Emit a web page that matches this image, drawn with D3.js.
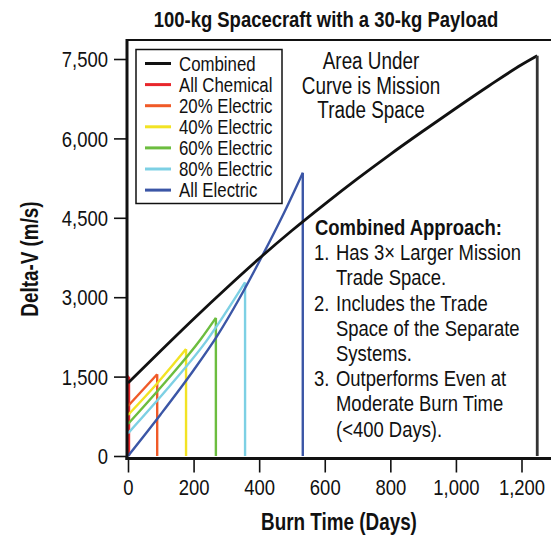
<!DOCTYPE html>
<html>
<head>
<meta charset="utf-8">
<script src="https://cdn.jsdelivr.net/npm/d3@7"></script>
<style>
  html, body { margin: 0; padding: 0; background: #fff; }
  svg { display: block; }
</style>
</head>
<body>
<svg id="chart" width="551" height="540"></svg>
<script>
// Burn time (days) and delta-V (m/s) for each propulsion option.
// Each separate system rises until its propellant is spent, then drops to zero.
const combinedDays = [0, 100, 200, 300, 400, 500, 600, 700, 800, 900, 1000, 1100, 1200, 1248];
const combinedDV   = [1380, 1990, 2590, 3170, 3730, 4260, 4760, 5240, 5700, 6140, 6570, 6990, 7390, 7560];

const chemDays = [0, 3];
const chemDV   = [1500, 1500];
const e20Days  = [0, 89];
const e20DV    = [945, 1545];
const e40Days  = [0, 90, 177];
const e40DV    = [775, 1380, 2020];
const e60Days  = [0, 110, 220, 268];
const e60DV    = [605, 1370, 2191, 2610];
const e80Days  = [0, 120, 240, 357];
const e80DV    = [428, 1270, 2180, 3280];
const elecDays = [0, 100, 200, 270, 340, 408, 470, 533];
const elecDV   = [0, 790, 1620, 2250, 2980, 3765, 4520, 5350];

const seriesNames  = ["Combined", "All Chemical", "20% Electric", "40% Electric", "60% Electric", "80% Electric", "All Electric"];
const seriesColors = ["#111111", "#e8262b", "#f05a28", "#f2e324", "#6cbd3f", "#7dd0e4", "#3b56a6"];

const xTicks = [0, 200, 400, 600, 800, 1000, 1200];
const yTicks = [0, 1500, 3000, 4500, 6000, 7500];

const titleText = "100-kg Spacecraft with a 30-kg Payload";
const xLabel = "Burn Time (Days)";
const yLabel = "Delta-V (m/s)";
const areaNote = ["Area Under", "Curve is Mission", "Trade Space"];
const approachHead = "Combined Approach:";
const approachItems = [
  ["1.", "Has 3\u00d7 Larger Mission", "Trade Space."],
  ["2.", "Includes the Trade", "Space of the Separate", "Systems."],
  ["3.", "Outperforms Even at", "Moderate Burn Time", "(<400 Days)."]
];

// Use a condensed face when present, otherwise squeeze the regular face
function fontPresent(name) {
  const ctx = document.createElement("canvas").getContext("2d");
  const probe = "Combined Approach 1,200";
  ctx.font = "40px monospace";
  const a = ctx.measureText(probe).width;
  ctx.font = `40px "${name}", monospace`;
  const b = ctx.measureText(probe).width;
  return Math.abs(a - b) > 0.5;
}
const narrow = fontPresent("Liberation Sans Narrow");
const FONT = narrow ? '"Liberation Sans Narrow", "Arial Narrow", sans-serif' : '"Liberation Sans", Arial, sans-serif';
const SQUEEZE = narrow ? 1 : 0.82;
function squeeze(sel) {
  if (SQUEEZE === 1) return;
  sel.each(function () {
    const w = this.getComputedTextLength();
    this.setAttribute("textLength", (w * SQUEEZE).toFixed(2));
    this.setAttribute("lengthAdjust", "spacingAndGlyphs");
  });
}

const svg = d3.select("#chart").style("font-family", FONT);

const x = d3.scaleLinear().domain([0, 1200]).range([128, 521.5]);
const y = d3.scaleLinear().domain([0, 7500]).range([456, 59]);

// Plot frame: top rule runs off the right edge
svg.append("line").attr("x1", 126).attr("x2", 551).attr("y1", 40).attr("y2", 40)
  .attr("stroke", "#111").attr("stroke-width", 2);

const lineGen = d3.line().x(d => x(d[0])).y(d => y(d[1]));
const curveGen = d3.line().x(d => x(d[0])).y(d => y(d[1])).curve(d3.curveMonotoneX);

function drawSeries(days, dv, color, width, dropColor) {
  const pts = days.map((d, i) => [d, dv[i]]);
  const end = pts[pts.length - 1];
  svg.append("path").attr("d", curveGen(pts))
    .attr("fill", "none").attr("stroke", color).attr("stroke-width", width);
  svg.append("path").attr("d", lineGen([end, [end[0], 0]]))
    .attr("fill", "none").attr("stroke", dropColor || color).attr("stroke-width", width);
}

// Separate systems, then the combined system on top
drawSeries(chemDays, chemDV, seriesColors[1], 2.4);
drawSeries(e20Days, e20DV, seriesColors[2], 2.4);
drawSeries(e40Days, e40DV, seriesColors[3], 2.4);
drawSeries(e60Days, e60DV, seriesColors[4], 2.4);
drawSeries(e80Days, e80DV, seriesColors[5], 2.4);
drawSeries(elecDays, elecDV, seriesColors[6], 2.4);
drawSeries(combinedDays, combinedDV, seriesColors[0], 2.8, "#333");

// Axes
const yAxis = d3.axisLeft(y).tickValues(yTicks).tickFormat(d3.format(",")).tickSize(13).tickPadding(6);
const gy = svg.append("g").attr("transform", "translate(127,0)").call(yAxis);
gy.select(".domain").remove();
gy.selectAll(".tick line").attr("stroke", "#111").attr("stroke-width", 1.6);
gy.selectAll(".tick text").attr("font-family", FONT).attr("font-size", 22.5).attr("fill", "#111")
  .attr("dy", "0.34em").call(squeeze);

const xAxis = d3.axisBottom(x).tickValues(xTicks).tickFormat(d3.format(",")).tickSize(14).tickPadding(7);
const gx = svg.append("g").attr("transform", "translate(0,458.5)").call(xAxis);
gx.select(".domain").remove();
gx.selectAll(".tick line").attr("stroke", "#111").attr("stroke-width", 1.6);
gx.selectAll(".tick text").attr("font-family", FONT).attr("font-size", 22.5).attr("fill", "#111")
  .call(squeeze);

// Axis rules
svg.append("line").attr("x1", 127).attr("x2", 127).attr("y1", 39).attr("y2", 460)
  .attr("stroke", "#111").attr("stroke-width", 3);
svg.append("line").attr("x1", 125.5).attr("x2", 551).attr("y1", 458.5).attr("y2", 458.5)
  .attr("stroke", "#111").attr("stroke-width", 3);

// Title and axis titles
svg.append("text").attr("x", 326).attr("y", 27).attr("text-anchor", "middle")
  .attr("font-size", 22.5).attr("font-weight", "bold").attr("fill", "#111")
  .text(titleText).call(squeeze);
svg.append("text").attr("x", 339).attr("y", 530).attr("text-anchor", "middle")
  .attr("font-size", 23).attr("font-weight", "bold").attr("fill", "#111")
  .text(xLabel).call(squeeze);
svg.append("text").attr("transform", "translate(38,259) rotate(-90)").attr("text-anchor", "middle")
  .attr("font-size", 23).attr("font-weight", "bold").attr("fill", "#111")
  .text(yLabel).call(squeeze);

// Legend
const legend = svg.append("g");
legend.append("rect").attr("x", 136).attr("y", 49.5).attr("width", 146).attr("height", 154)
  .attr("fill", "#fff").attr("stroke", "#111").attr("stroke-width", 1.5);
seriesNames.forEach((name, i) => {
  const cy = 63.5 + i * 21.1;
  legend.append("line").attr("x1", 145).attr("x2", 171).attr("y1", cy).attr("y2", cy)
    .attr("stroke", seriesColors[i]).attr("stroke-width", 3);
  legend.append("text").attr("x", 179).attr("y", cy).attr("dy", "0.35em")
    .attr("font-size", 20.5).attr("fill", "#111").text(name).call(squeeze);
});

// Note about the area under the curve
areaNote.forEach((line, i) => {
  svg.append("text").attr("x", 371).attr("y", 69 + i * 24.5).attr("text-anchor", "middle")
    .attr("font-size", 23).attr("fill", "#111").text(line).call(squeeze);
});

// Combined approach summary
svg.append("text").attr("x", 315).attr("y", 235)
  .attr("font-size", 22.5).attr("font-weight", "bold").attr("fill", "#111")
  .text(approachHead).call(squeeze);
let row = 1;
approachItems.forEach(item => {
  item.slice(1).forEach((line, j) => {
    const by = 235 + row * 25.2;
    if (j === 0) {
      svg.append("text").attr("x", 314).attr("y", by)
        .attr("font-size", 22.5).attr("fill", "#111").text(item[0]).call(squeeze);
    }
    svg.append("text").attr("x", 336).attr("y", by)
      .attr("font-size", 22.5).attr("fill", "#111").text(line).call(squeeze);
    row++;
  });
});
</script>
</body>
</html>
